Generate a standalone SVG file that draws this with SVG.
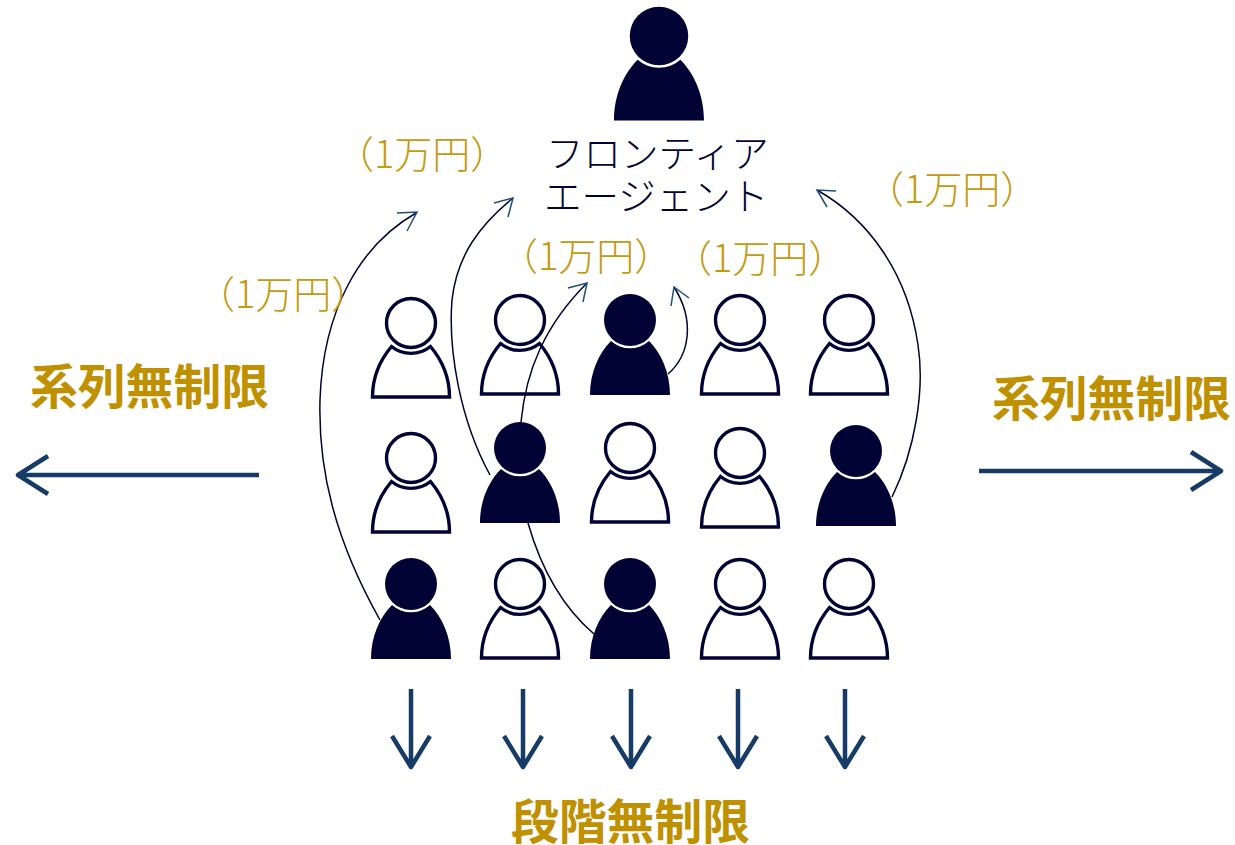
<svg xmlns="http://www.w3.org/2000/svg" width="1235" height="845" viewBox="0 0 1235 845">
<style>
.f{fill:#000333;stroke:none}
.o{fill:#fff;stroke:#000333;stroke-width:3.400}
.c{fill:none;stroke:#000333;stroke-width:1.500}
.h{fill:none;stroke:#1f4e79;stroke-width:1.500}
.a{fill:none;stroke:#163b66;stroke-width:4.500;stroke-linejoin:round}
.g{font-family:"Noto Sans CJK JP","Noto Sans",sans-serif;font-size:38px;font-weight:300;fill:#c39a10}
.b{font-family:"Noto Sans CJK JP","Noto Sans",sans-serif;font-size:47.800px;font-weight:700;fill:#bf9000}
.t{font-family:"Noto Sans CJK JP","Noto Sans",sans-serif;font-size:37.500px;font-weight:300;fill:#000333}
</style>
<defs>
<g id="pf"><circle class="f" r="26"/><path class="f" d="M-40,75C-40,52 -31,33 -19,21A28.500,28.500 0 0 0 19,21C31,33 40,52 40,75Z"/></g>
<g id="po"><circle class="o" r="24.500"/><path class="o" d="M-38.500,74C-38.500,53 -30,36 -19.500,23.500A31,31 0 0 0 19.500,23.500C30,36 38.500,53 38.500,74Z"/></g>
</defs>
<g id="agent"><use href="#pf" transform="translate(659,36) scale(1.125)"/></g>
<g id="p11"><use href="#po" transform="translate(411,323)"/></g>
<g id="p12"><use href="#po" transform="translate(520,320)"/></g>
<g id="p13"><use href="#pf" transform="translate(630,320)"/></g>
<g id="p14"><use href="#po" transform="translate(740,320)"/></g>
<g id="p15"><use href="#po" transform="translate(849,320)"/></g>
<g id="p21"><use href="#po" transform="translate(411,458)"/></g>
<g id="p22"><use href="#pf" transform="translate(520,448)"/></g>
<g id="p23"><use href="#po" transform="translate(630,448)"/></g>
<g id="p24"><use href="#po" transform="translate(740,453)"/></g>
<g id="p25"><use href="#pf" transform="translate(856,451)"/></g>
<g id="p31"><use href="#pf" transform="translate(411,584)"/></g>
<g id="p32"><use href="#po" transform="translate(520,584)"/></g>
<g id="p33"><use href="#pf" transform="translate(630,584)"/></g>
<g id="p34"><use href="#po" transform="translate(740,584)"/></g>
<g id="p35"><use href="#po" transform="translate(849,584)"/></g>
<g id="connectors">
<path class="c" d="M380,620C335,540 318,470 320,400C323,310 360,245 416,213"/>
<path class="h" d="M397,213L417,212L407,231"/>
<path class="c" d="M594,634C560,605 540,565 528,523M490,475C460,420 448,350 452,300C457,255 480,225 513,198"/>
<path class="h" d="M494,203L513,198L508,217"/>
<path class="c" d="M521,422C526,370 545,325 587,283"/>
<path class="h" d="M568,288L587,283L583,302"/>
<path class="c" d="M668,374C690,355 695,320 674,287"/>
<path class="h" d="M671,306L674,287L689,298"/>
<path class="c" d="M892,497C915,450 925,390 918,345C908,275 870,220 817,190"/>
<path class="h" d="M836,191L817,190L827,207"/>
<path class="a" d="M259,475H18M48,456L18,475L48,494"/>
<path class="a" d="M979,471H1221M1191,452L1221,471L1191,490"/>
<path class="a" d="M411,689V767M392,736L411,767L430,736"/>
<path class="a" d="M523,689V767M504,736L523,767L542,736"/>
<path class="a" d="M631,689V767M612,736L631,767L650,736"/>
<path class="a" d="M738,689V767M719,736L738,767L757,736"/>
<path class="a" d="M845,689V767M826,736L845,767L864,736"/>
</g>
<text class="t" x="546" y="167">フロンティア</text>
<text class="t" x="544" y="210">エージェント</text>
<text class="g" x="336" y="168">（1万円）</text>
<text class="g" x="866" y="203">（1万円）</text>
<text class="g" x="500" y="270">（1万円）</text>
<text class="g" x="674" y="272">（1万円）</text>
<text class="g" x="197" y="308">（1万円）</text>
<text class="b" x="30" y="404">系列無制限</text>
<text class="b" x="992" y="416">系列無制限</text>
<text class="b" x="511" y="839">段階無制限</text>
</svg>
